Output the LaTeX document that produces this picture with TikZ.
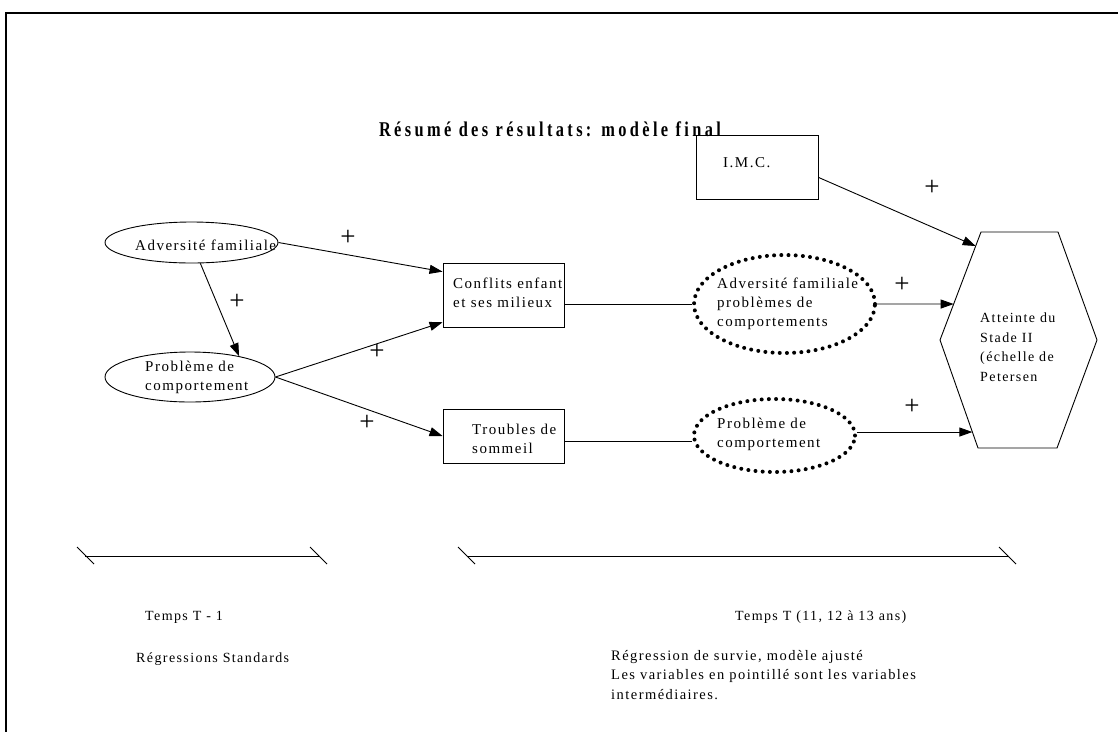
\documentclass[tikz,border=0pt]{standalone}
\usepackage{fontspec}
\setmainfont{Liberation Serif}[LetterSpace=10]
\newfontfamily\titlefont{Liberation Serif}[LetterSpace=16,FakeStretch=0.78]
\newfontfamily\signfont{Liberation Serif}
\usetikzlibrary{shapes.geometric,arrows.meta,calc}

\begin{document}
\begin{tikzpicture}[x=1pt,y=-1pt,
  box/.style={draw, rectangle, line width=0.9pt, inner sep=0pt},
  oval/.style={draw, ellipse, line width=0.9pt, inner sep=0pt},
  dotoval/.style={draw, ellipse, inner sep=0pt, line width=4pt,
    dash pattern=on 0pt off 7.2pt, line cap=round},
  txt/.style={font=\fontsize{15}{19}\selectfont, align=left, inner sep=0pt, anchor=west},
  note/.style={font=\fontsize{14}{19.5}\selectfont, align=left, inner sep=0pt, anchor=west},
  link/.style={line width=0.9pt},
  arr/.style={link, -{Triangle[length=13pt,width=9pt]}},
  plus/.style={font=\signfont\fontsize{27}{27}\selectfont, inner sep=0pt},
  bar/.style={line width=1pt}]
\useasboundingbox (0,0) rectangle (1118,732);

% page frame (top and left rules)
\draw[line width=1.6pt] (1118,13) -- (6,13) -- (6,732);

% title
\node[font=\titlefont\bfseries\fontsize{21}{24}\selectfont, inner sep=0pt] (title) at (550,129)
  {Résumé des résultats: modèle final};

% left block: T-1 variables
\node[oval, minimum width=173pt, minimum height=41pt] (af) at (191.5,242.5) {};
\node[txt] (aftxt) at (135,245) {Adversité familiale};
\node[oval, minimum width=170pt, minimum height=50pt] (pb) at (190,377) {};
\node[txt] (pbtxt) at (145,377) {Problème de\\comportement};

% mediating boxes
\node[box, minimum width=121pt, minimum height=64pt] (conf) at (503.5,295) {};
\node[txt] (conftxt) at (453,293) {Conflits enfant\\et ses milieux};
\node[box, minimum width=121pt, minimum height=54pt] (trb) at (503.5,436) {};
\node[txt] (trbtxt) at (472,438.5) {Troubles de\\sommeil};
\node[box, minimum width=122pt, minimum height=64pt] (imc) at (757,167) {};
\node[txt] (imctxt) at (723,163) {I.M.C.};

% intermediate variables (dotted)
\node[dotoval, minimum width=181pt, minimum height=98pt] (d1) at (784.5,304) {};
\node[txt] (d1txt) at (717,304) {Adversité familiale\\problèmes de\\comportements};
\node[dotoval, minimum width=161pt, minimum height=73pt] (d2) at (774.5,435.5) {};
\node[txt] (d2txt) at (717,434) {Problème de\\comportement};

% outcome hexagon
\coordinate (hTL) at (981,232);
\coordinate (hL)  at (940,340);
\coordinate (hBL) at (978,448);
\coordinate (hBR) at (1057,448);
\coordinate (hR)  at (1097,340);
\coordinate (hTR) at (1058,232);
\draw[link] (hTL) -- (hL) -- (hBL) -- (hBR) -- (hR) -- (hTR) -- cycle;
\node[txt, font=\fontsize{14}{19.5}\selectfont] (hextxt) at (980,347)
  {Atteinte du\\Stade II\\(échelle de\\Petersen};

% connectors
\draw[arr] (af.east) -- ($(conf.north west)!0.14!(conf.south west)$);
\draw[arr] (af.-67) -- (pb.23);
\draw[arr] (pb.east) -- ($(conf.north west)!0.92!(conf.south west)$);
\draw[arr] (pb.east) -- (trb.west);
\draw[link] (conf.east |- d1.west) -- (d1.west);
\coordinate (t6) at ($(trb.east)+(0,5)$);
\draw[link] (t6) -- (d2.west |- t6);
\draw[arr] (d1.east) -- ($(hTL)!0.667!(hL)$);
\coordinate (h2) at ($(hL)!0.852!(hBL)$);
\draw[arr] (d2.east |- h2) -- (h2);
\draw[arr] ($(imc.north east)!0.66!(imc.south east)$) -- ($(hTL)!0.13!(hL)$);

% signs of the effects
\node[plus] (p1) at (348,238) {+};
\node[plus] (p2) at (237,302) {+};
\node[plus] (p3) at (377,352) {+};
\node[plus] (p4) at (367,423) {+};
\node[plus] (p5) at (932,188) {+};
\node[plus] (p6) at (902,285) {+};
\node[plus] (p7) at (912,407) {+};

% time lines
\coordinate (la) at (85,556);  \coordinate (lb) at (319,556);
\coordinate (ra) at (467,556); \coordinate (rb) at (1008,556);
\draw[bar] (la) -- (lb);
\draw[bar] (77,547) -- (94,564);
\draw[bar] (310,547) -- (327,564);
\draw[bar] (ra) -- (rb);
\draw[bar] (458,547) -- (475,564);
\draw[bar] (999,547) -- (1016,564);

% period captions
\node[note] (tm1) at (145,617) {Temps T - 1};
\node[note] (rs) at (136,659) {Régressions Standards};
\node[note] (tt) at (735,617) {Temps T (11, 12 à 13 ans)};
\node[note, anchor=north west, font=\fontsize{14.5}{19.5}\selectfont] (rsv) at (611,650)
  {Régression de survie, modèle ajusté\\Les variables en pointillé sont les variables\\intermédiaires.};
\end{tikzpicture}
\end{document}
